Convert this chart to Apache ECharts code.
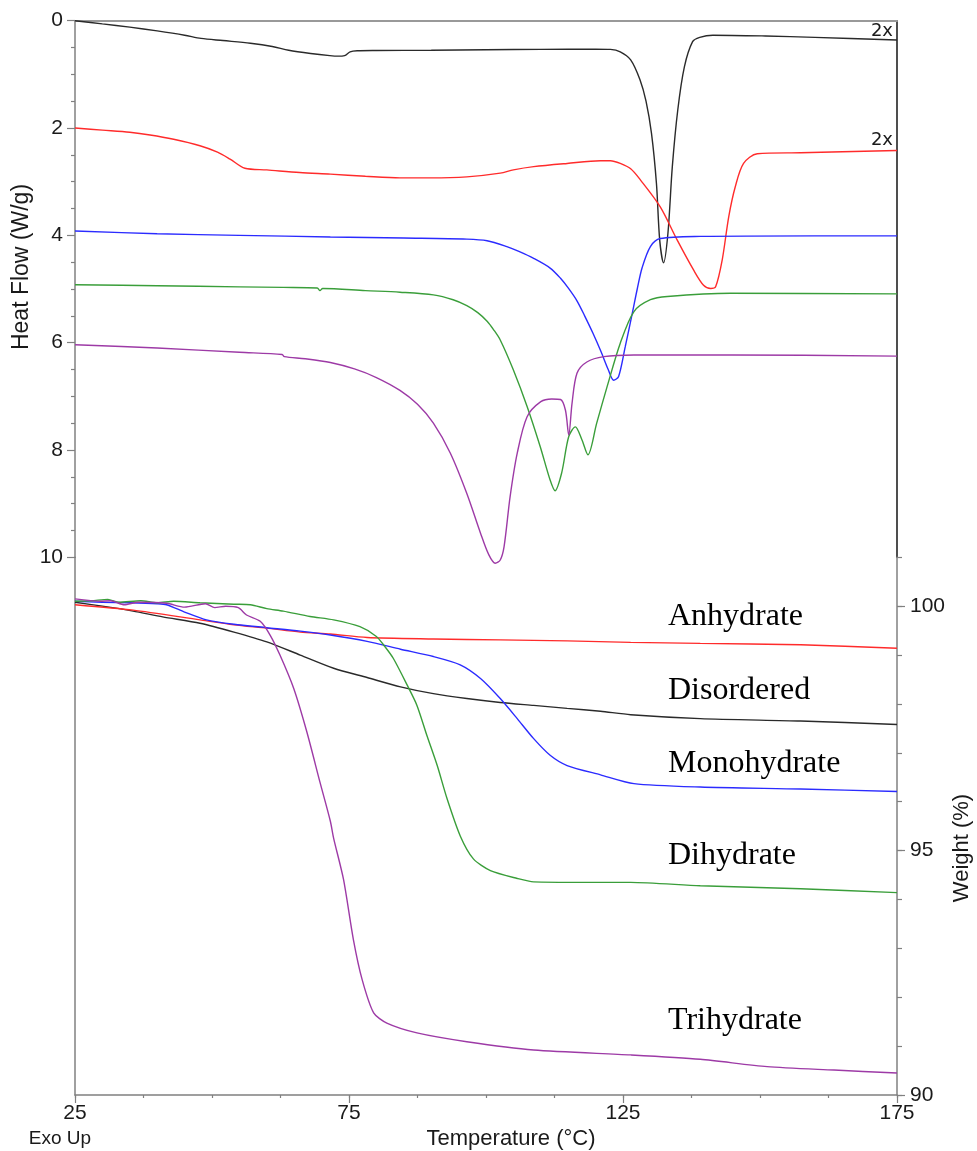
<!DOCTYPE html>
<html>
<head>
<meta charset="utf-8">
<script src="https://cdn.jsdelivr.net/npm/echarts@6/dist/echarts.min.js"></script>
<style>
html,body{margin:0;padding:0;background:#fff;}
#c{width:977px;height:1151px;}
</style>
</head>
<body>
<div id="c"></div>
<script>
// ---------- data (temperature °C, value) ----------
const xTicks = [25, 75, 125, 175];
const hfTicks = [0, 2, 4, 6, 8, 10];
const wTicks = [90, 95, 100];
const seriesNames = ['Disordered', 'Anhydrate', 'Monohydrate', 'Dihydrate', 'Trihydrate'];
const scaleNotes = ['2x', '2x'];

// DSC heat flow (W/g)
const disorderedDSC = [[25,0.00],[30,0.06],[35,0.12],[40,0.19],[45,0.27],[48,0.33],[52,0.37],[57,0.42],[61,0.48],[64,0.55],[68,0.61],[71.5,0.65],[73,0.66],[74.2,0.65],[75.2,0.58],[76.5,0.56],[80,0.555],[90,0.55],[100,0.54],[110,0.535],[120,0.53],[122.7,0.535],[124.5,0.58],[126.4,0.73],[128.1,1.1],[129.2,1.5],[130.2,2.1],[131.1,3.03],[131.7,4.09],[132.4,4.51],[133.2,3.96],[134.0,2.72],[135.0,1.66],[136.2,0.86],[137.7,0.39],[139,0.31],[141.4,0.27],[151,0.285],[160,0.31],[175,0.36]];
const anhydrateDSC = [[25,2.00],[30,2.04],[35,2.08],[38.7,2.13],[43,2.21],[47.8,2.33],[51,2.45],[53.3,2.58],[56,2.75],[60,2.78],[66,2.83],[71.6,2.86],[78,2.90],[84.3,2.93],[90,2.93],[96.5,2.91],[102.6,2.84],[105,2.78],[108.7,2.72],[114.8,2.66],[120.9,2.61],[122.7,2.61],[124.5,2.66],[126.4,2.76],[128.2,2.97],[131.8,3.47],[134.9,4.09],[137.9,4.65],[139.7,4.93],[141,4.99],[141.9,4.96],[143.1,4.46],[144.3,3.65],[145.5,3.09],[147,2.66],[149.5,2.48],[157.4,2.46],[175,2.42]];
const monohydrateDSC = [[25,3.92],[40,3.97],[55,4.00],[71.6,4.03],[85,4.05],[96.5,4.07],[100.2,4.10],[103.8,4.21],[106,4.30],[108.7,4.43],[111.7,4.61],[113.6,4.80],[115,4.98],[116.6,5.22],[118,5.50],[119.5,5.82],[121,6.17],[122.3,6.50],[123.3,6.70],[124.2,6.63],[125.4,6.08],[126.7,5.45],[127.6,5.00],[128.5,4.60],[130,4.21],[131.8,4.06],[139.1,4.02],[160,4.01],[175,4.01]];
const dihydrateDSC = [[25,4.92],[40,4.94],[55,4.96],[63,4.97],[69.2,4.98],[69.7,5.03],[70.2,4.99],[78,5.03],[84.3,5.06],[90.4,5.11],[94,5.20],[96.5,5.31],[98.5,5.44],[100.2,5.60],[101.4,5.76],[102.6,5.95],[105,6.51],[107.5,7.19],[109.9,7.94],[111.7,8.56],[112.6,8.76],[113.8,8.43],[115.1,7.75],[116.3,7.57],[117.5,7.81],[118.6,8.09],[120.2,7.50],[122.1,6.82],[124.5,6.01],[127,5.42],[130,5.20],[133.1,5.14],[144.6,5.08],[175,5.09]];
const trihydrateDSC = [[25,6.04],[40,6.10],[55,6.18],[62.8,6.22],[63.2,6.26],[67,6.30],[71.6,6.37],[76,6.49],[80,6.65],[84.3,6.89],[87.5,7.15],[90.4,7.50],[93.5,8.06],[96.5,8.81],[99,9.55],[100.5,9.95],[101.7,10.11],[102.6,10.05],[103.3,9.80],[104.4,8.87],[105.7,8.06],[107.5,7.38],[110,7.10],[112,7.05],[113.6,7.06],[114.5,7.26],[115.1,7.72],[115.7,7.13],[116.6,6.57],[118.4,6.36],[121.5,6.26],[127,6.23],[145,6.23],[175,6.25]];

// TGA weight (%)
const disorderedTGA = [[25,100.08],[30,100.00],[35.6,99.90],[41,99.78],[47.8,99.65],[54,99.47],[60,99.27],[66.1,99.00],[72.2,98.73],[78.3,98.54],[84.4,98.35],[90.4,98.21],[96.5,98.11],[102.6,98.03],[108.7,97.97],[114.8,97.91],[120.9,97.85],[126.4,97.78],[139.1,97.70],[157.4,97.65],[175,97.58]];
const anhydrateTGA = [[25,100.03],[35.6,99.92],[47.8,99.72],[54,99.62],[60,99.55],[66.1,99.47],[71.6,99.43],[78.3,99.36],[90.4,99.33],[102.6,99.31],[114.8,99.29],[126.4,99.26],[139.1,99.24],[157.4,99.21],[175,99.14]];
const monohydrateTGA = [[25,100.10],[30,100.08],[35,100.07],[40,100.05],[41.7,100.03],[45,99.88],[49,99.72],[54,99.63],[60,99.56],[66.1,99.49],[71.6,99.41],[78.3,99.28],[84.4,99.12],[90.4,98.97],[95.3,98.80],[99,98.52],[102.6,98.11],[105.7,97.70],[108.7,97.29],[111.7,96.95],[114.8,96.74],[120.9,96.55],[127,96.37],[139.1,96.30],[157.4,96.26],[175,96.21]];
const dihydrateTGA = [[25,100.10],[28,100.11],[31,100.14],[33,100.08],[37,100.11],[40,100.07],[43,100.10],[47.8,100.07],[54,100.04],[57,100.03],[60,99.95],[63,99.90],[67.9,99.79],[72.2,99.72],[77,99.58],[80,99.38],[81.5,99.18],[83.1,98.93],[85.6,98.39],[87.4,97.97],[89.2,97.36],[91.1,96.74],[92.9,96.06],[95.3,95.30],[97.7,94.83],[100.8,94.59],[105.7,94.43],[108.7,94.36],[117.8,94.35],[126.4,94.35],[139.1,94.28],[157.4,94.22],[175,94.14]];
const trihydrateTGA = [[25,100.15],[29.6,100.10],[31.5,100.11],[34,100.03],[36.5,100.08],[41.7,100.06],[45,99.98],[48.8,100.05],[50.5,99.97],[52.5,100.00],[54.8,99.97],[56.3,99.82],[58.8,99.69],[60.6,99.41],[62.4,99.00],[64.9,98.32],[67.3,97.43],[69.7,96.40],[71.6,95.60],[72.2,95.25],[74,94.41],[75.8,93.18],[77.4,92.36],[79.5,91.68],[81.9,91.47],[87.4,91.27],[96.5,91.09],[108.7,90.92],[126.4,90.82],[139.1,90.73],[151.3,90.58],[163.5,90.51],[175,90.45]];

const colors = ['#2a2a2a', '#ff2b2b', '#2b2bff', '#3a9e3a', '#9d3aa6'];
const dscData = [disorderedDSC, anhydrateDSC, monohydrateDSC, dihydrateDSC, trihydrateDSC];
const tgaData = [disorderedTGA, anhydrateTGA, monohydrateTGA, dihydrateTGA, trihydrateTGA];

const axisGray = '#808080';
const txt = '#1a1a1a';
const sans = 'Liberation Sans, Arial, sans-serif';

const chart = echarts.init(document.getElementById('c'), null, {renderer: 'canvas'});

const series = [];
dscData.forEach((d, i) => series.push({
  name: seriesNames[i] + ' DSC', type: 'line', xAxisIndex: 0, yAxisIndex: 0,
  data: d, showSymbol: false, smooth: 0.3, clip: false,
  lineStyle: {color: colors[i], width: 1.4}, z: 3
}));
tgaData.forEach((d, i) => series.push({
  name: seriesNames[i] + ' TGA', type: 'line', xAxisIndex: 1, yAxisIndex: 3,
  data: d, showSymbol: false, smooth: 0.25, clip: false,
  lineStyle: {color: colors[i], width: 1.4}, z: 3
}));

// label anchor positions (left, vertical middle) for the TGA curve names
const tgaLabelPos = [[668, 691], [668, 617], [668, 764], [668, 856], [668, 1021]];

const graphic = [
  {type: 'text', x: 22, y: 267, rotation: Math.PI / 2,
    style: {text: 'Heat Flow (W/g)', font: '23px ' + sans, fill: txt, align: 'center', verticalAlign: 'middle'}},
  {type: 'text', x: 962, y: 848, rotation: Math.PI / 2,
    style: {text: 'Weight (%)', font: '22px ' + sans, fill: txt, align: 'center', verticalAlign: 'middle'}},
  {type: 'text', x: 511, y: 1139,
    style: {text: 'Temperature (°C)', font: '22px ' + sans, fill: txt, align: 'center', verticalAlign: 'middle'}},
  {type: 'text', x: 60, y: 1139,
    style: {text: 'Exo Up', font: '19px ' + sans, fill: txt, align: 'center', verticalAlign: 'middle'}},
  {type: 'text', x: 893, y: 31,
    style: {text: scaleNotes[0], font: '18px DejaVu Sans, sans-serif', fill: txt, align: 'right', verticalAlign: 'middle'}},
  {type: 'text', x: 893, y: 140,
    style: {text: scaleNotes[1], font: '18px DejaVu Sans, sans-serif', fill: txt, align: 'right', verticalAlign: 'middle'}}
];
seriesNames.forEach((n, i) => graphic.push({
  type: 'text', x: tgaLabelPos[i][0], y: tgaLabelPos[i][1],
  style: {text: n, font: '32px Liberation Serif, Times New Roman, serif', fill: '#000', align: 'left', verticalAlign: 'middle'}
}));

const option = {
  animation: false,
  backgroundColor: '#fff',
  grid: [
    {left: 75, right: 80, top: 20.7, height: 536.6, containLabel: false},
    {left: 75, right: 80, top: 557.3, height: 537.7, containLabel: false}
  ],
  xAxis: [
    {type: 'value', gridIndex: 0, position: 'top', min: 25, max: 175,
      axisLine: {show: true, lineStyle: {color: '#999', width: 2}},
      axisTick: {show: false}, axisLabel: {show: false}, splitLine: {show: false}},
    {type: 'value', gridIndex: 1, position: 'bottom', min: 25, max: 175, interval: 12.5,
      axisLine: {show: true, onZero: false, lineStyle: {color: axisGray, width: 1.5}},
      axisTick: {show: true, length: 3, lineStyle: {color: axisGray, width: 1.2}},
      axisLabel: {show: true, customValues: xTicks, fontSize: 21, fontFamily: sans, color: txt, margin: 8},
      splitLine: {show: false}},
    {type: 'value', gridIndex: 1, position: 'bottom', min: 25, max: 175,
      axisLine: {show: false},
      axisTick: {show: true, customValues: xTicks, length: 8, lineStyle: {color: axisGray, width: 1.2}},
      axisLabel: {show: false}, splitLine: {show: false}}
  ],
  yAxis: [
    {type: 'value', gridIndex: 0, position: 'left', inverse: true, min: 0, max: 10, interval: 2,
      axisLine: {show: true, onZero: false, lineStyle: {color: axisGray, width: 1.5}},
      axisTick: {show: true, length: 8, lineStyle: {color: axisGray, width: 1.2}},
      minorTick: {show: true, splitNumber: 4, length: 4, lineStyle: {color: axisGray, width: 1.2}},
      axisLabel: {show: true, customValues: hfTicks, fontSize: 21, fontFamily: sans, color: txt, margin: 12},
      splitLine: {show: false}, minorSplitLine: {show: false}},
    {type: 'value', gridIndex: 0, position: 'right', inverse: true, min: 0, max: 10,
      axisLine: {show: true, onZero: false, lineStyle: {color: '#222', width: 1.6}},
      axisTick: {show: false}, axisLabel: {show: false}, splitLine: {show: false}},
    {type: 'value', gridIndex: 1, position: 'left', min: 90, max: 101,
      axisLine: {show: true, onZero: false, lineStyle: {color: axisGray, width: 1.5}},
      axisTick: {show: false}, axisLabel: {show: false}, splitLine: {show: false}},
    {type: 'value', gridIndex: 1, position: 'right', min: 90, max: 101, interval: 1,
      axisLine: {show: true, onZero: false, lineStyle: {color: axisGray, width: 1.5}},
      axisTick: {show: true, length: 5, lineStyle: {color: axisGray, width: 1.2}},
      axisLabel: {show: true, customValues: wTicks, fontSize: 21, fontFamily: sans, color: txt, margin: 13},
      splitLine: {show: false}},
    {type: 'value', gridIndex: 1, position: 'right', min: 90, max: 101,
      axisLine: {show: false},
      axisTick: {show: true, customValues: wTicks, length: 8, lineStyle: {color: axisGray, width: 1.2}},
      axisLabel: {show: false}, splitLine: {show: false}}
  ],
  series: series,
  graphic: graphic
};
chart.setOption(option);
</script>
</body>
</html>
